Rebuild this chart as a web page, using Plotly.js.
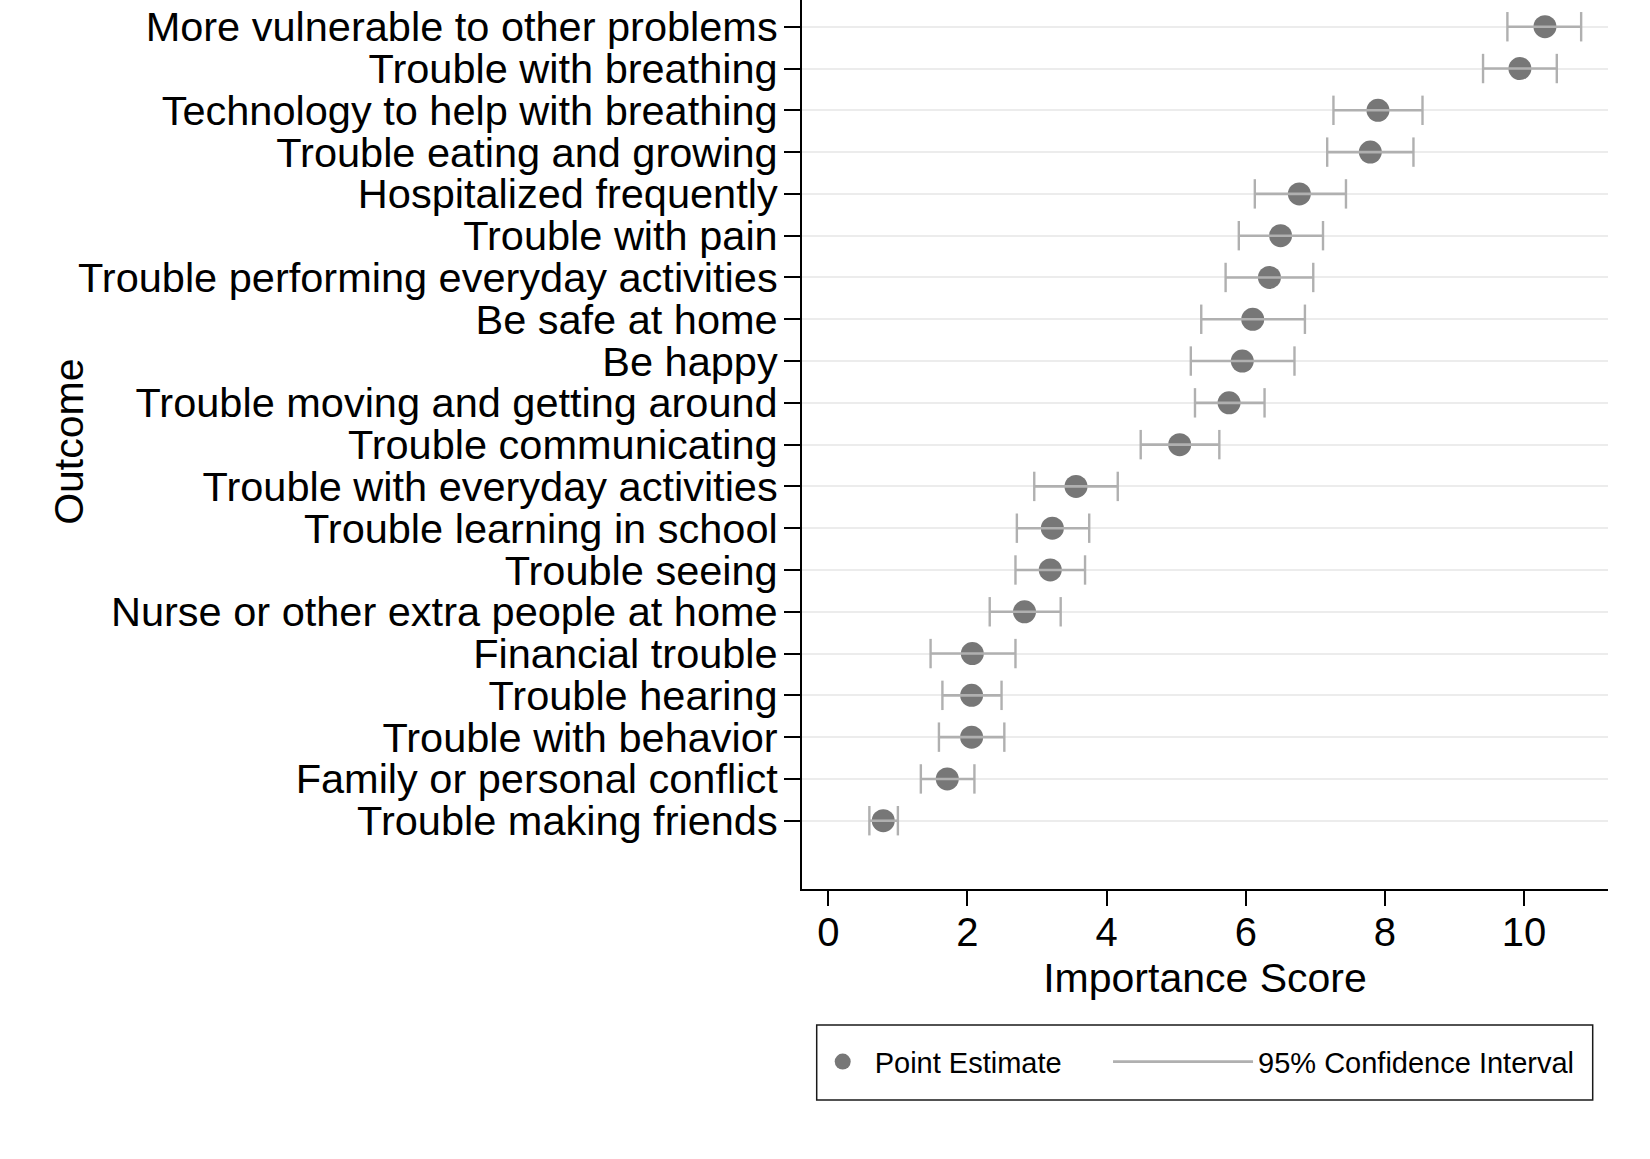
<!DOCTYPE html>
<html>
<head>
<meta charset="utf-8">
<script src="https://cdn.plot.ly/plotly-3.0.1.min.js"></script>
<style>
  html, body { margin: 0; padding: 0; background: #ffffff; }
  #chart { width: 1650px; height: 1159px; }
</style>
</head>
<body>
<div id="chart"></div>
<script>
// Outcomes, listed top to bottom as in the chart
const outcomes = [
  "More vulnerable to other problems",
  "Trouble with breathing",
  "Technology to help with breathing",
  "Trouble eating and growing",
  "Hospitalized frequently",
  "Trouble with pain",
  "Trouble performing everyday activities",
  "Be safe at home",
  "Be happy",
  "Trouble moving and getting around",
  "Trouble communicating",
  "Trouble with everyday activities",
  "Trouble learning in school",
  "Trouble seeing",
  "Nurse or other extra people at home",
  "Financial trouble",
  "Trouble hearing",
  "Trouble with behavior",
  "Family or personal conflict",
  "Trouble making friends"
];
// Point estimates of the importance score
const pointEstimate = [10.30, 9.94, 7.90, 7.79, 6.77, 6.50, 6.34, 6.10, 5.95, 5.76,
                       5.05, 3.56, 3.22, 3.19, 2.82, 2.07, 2.06, 2.06, 1.71, 0.79];
// 95% confidence interval bounds
const ciLower = [9.76, 9.41, 7.26, 7.17, 6.13, 5.90, 5.71, 5.36, 5.21, 5.27,
                 4.49, 2.96, 2.71, 2.69, 2.32, 1.47, 1.64, 1.59, 1.33, 0.59];
const ciUpper = [10.82, 10.47, 8.54, 8.41, 7.44, 7.11, 6.97, 6.85, 6.70, 6.27,
                 5.62, 4.16, 3.75, 3.69, 3.34, 2.69, 2.49, 2.53, 2.10, 1.00];
const xTickValues = [0, 2, 4, 6, 8, 10];
const xTickLabels = ["0", "2", "4", "6", "8", "10"];
const xTitle = "Importance Score";
const yTitle = "Outcome";

const FONT = "'Liberation Sans', Arial, Helvetica, sans-serif";
const POINT_COLOR = "#777777";
const CI_COLOR = "#b0b0b0";

// Build CI segments (lo -> hi, separated by gaps)
const segX = [], segY = [];
outcomes.forEach((o, i) => {
  segX.push(ciLower[i], ciUpper[i], null);
  segY.push(o, o, null);
});

const traces = [
  {
    type: "scatter",
    mode: "markers",
    name: "Point Estimate",
    x: pointEstimate,
    y: outcomes,
    marker: { color: POINT_COLOR, size: 23, line: { width: 0 } },
    legend: "legend",
    hoverinfo: "skip"
  },
  {
    type: "scatter",
    mode: "lines",
    name: "95% Confidence Interval",
    x: segX,
    y: segY,
    line: { color: CI_COLOR, width: 2.6 },
    legend: "legend2",
    hoverinfo: "skip"
  },
  {
    type: "scatter",
    mode: "markers",
    name: "CI caps",
    x: ciLower.concat(ciUpper),
    y: outcomes.concat(outcomes),
    marker: { symbol: "line-ns", size: 21, color: CI_COLOR, line: { color: CI_COLOR, width: 2.4 } },
    showlegend: false,
    hoverinfo: "skip"
  }
];

const layout = {
  width: 1650,
  height: 1159,
  paper_bgcolor: "#ffffff",
  plot_bgcolor: "#ffffff",
  margin: { l: 802, r: 42, t: 0, b: 270, pad: 0 },
  font: { family: FONT, color: "#000000", size: 40 },
  showlegend: true,
  hovermode: false,
  xaxis: {
    range: [-0.378, 11.206],
    tickmode: "array",
    tickvals: xTickValues,
    ticktext: xTickLabels,
    ticks: "outside",
    ticklen: 15,
    tickwidth: 2,
    tickcolor: "#000000",
    showline: true,
    linecolor: "#000000",
    linewidth: 2,
    showgrid: false,
    zeroline: false,
    ticklabelstandoff: -8,
    tickfont: { family: FONT, size: 40, color: "#000000" },
    title: { text: xTitle, font: { family: FONT, size: 41, color: "#000000" }, standoff: 10 }
  },
  yaxis: {
    type: "category",
    categoryorder: "array",
    categoryarray: outcomes.slice().reverse(),
    tickmode: "array",
    tickvals: outcomes,
    ticktext: outcomes,
    range: [-1.634, 19.64],
    ticks: "outside",
    ticklen: 16,
    tickwidth: 2,
    tickcolor: "#000000",
    showline: true,
    linecolor: "#000000",
    linewidth: 2,
    showgrid: true,
    gridcolor: "#ececec",
    gridwidth: 2,
    zeroline: false,
    ticklabelstandoff: -2,
    tickfont: { family: FONT, size: 41.5, color: "#000000" }
  },
  annotations: [
    {
      text: yTitle,
      xref: "paper", yref: "paper",
      x: -0.9094, y: 0.503,
      xanchor: "center", yanchor: "middle",
      textangle: -90,
      showarrow: false,
      font: { family: FONT, size: 41, color: "#000000" }
    }
  ],
  legend: {
    orientation: "h",
    x: 0.0108,
    xanchor: "left",
    y: -0.1943,
    yanchor: "middle",
    itemwidth: 54,
    bgcolor: "rgba(0,0,0,0)",
    borderwidth: 0,
    font: { family: FONT, size: 29, color: "#000000" }
  },
  legend2: {
    orientation: "h",
    x: 0.3797,
    xanchor: "left",
    y: -0.1943,
    yanchor: "middle",
    itemwidth: 140,
    bgcolor: "rgba(0,0,0,0)",
    borderwidth: 0,
    font: { family: FONT, size: 29, color: "#000000" }
  },
  shapes: [
    {
      type: "rect",
      xref: "paper", yref: "paper",
      x0: 0.01824, x1: 0.98102,
      y0: -0.23735, y1: -0.15298,
      line: { color: "#1a1a1a", width: 1.5 },
      fillcolor: "rgba(0,0,0,0)",
      layer: "above"
    }
  ]
};

Plotly.newPlot("chart", traces, layout, { displayModeBar: false, staticPlot: true });
</script>
</body>
</html>
